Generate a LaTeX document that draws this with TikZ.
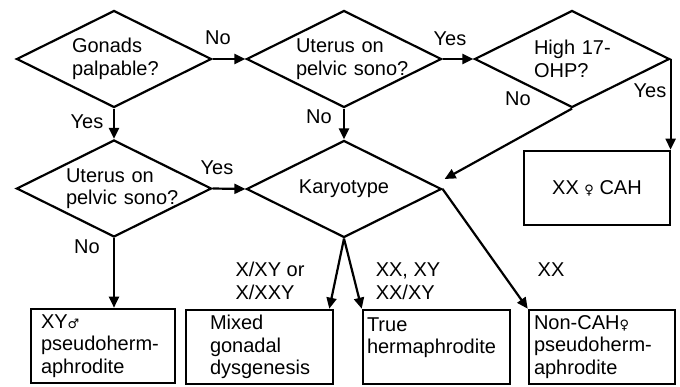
\documentclass[tikz,border=0pt]{standalone}
\usepackage{fontspec}
\setmainfont{Liberation Sans}
\newfontfamily\symfont{DejaVu Sans}
\usetikzlibrary{arrows.meta,positioning,calc,shapes.geometric}

\newcommand{\femsym}{{\symfont\fontsize{13}{13}\selectfont ♀}}
\newcommand{\malsym}{{\symfont\fontsize{13}{13}\selectfont ♂}}

\begin{document}
\begin{tikzpicture}[
    x=1pt, y=-1pt,
    font=\fontsize{20}{22.5}\selectfont,
    decision/.style={diamond, draw=black, line width=2.2pt, shape aspect=2,
                minimum width=195pt, minimum height=97pt, inner sep=0pt,
                align=left},
    outcome/.style={rectangle, draw=black, line width=2.6pt, align=left,
                minimum height=74pt, inner ysep=4pt},
    arr/.style={-{Triangle[length=11pt, width=10pt]}, line width=2.2pt},
]
\useasboundingbox (0,0) rectangle (680,386);

% --- Decisions ---
\node[decision, text width=84pt] (gonads) at (114,59) {Gonads\\palpable?};
\node[decision, text width=96pt] (uterusA) at (344,59) {Uterus on\\\mbox{pelvic sono?}};
\node[decision, text width=76pt] (ohp) at (572,59) {\mbox{High 17-}\\OHP?};
\node[decision, text width=96pt] (uterusB) at (114,188.5) {Uterus on\\\mbox{pelvic sono?}};
\node[decision] (karyo) at (344,189) {Karyotype};

% --- Outcomes ---
\node[outcome, minimum width=146pt, align=center] (cah) at (597,188) {XX \femsym{} CAH};
\node[outcome, minimum width=144pt, inner xsep=10pt, text width=124pt]
  (xyph) at (103,346) {XY\malsym\\pseudoherm-\\aphrodite};
\node[outcome, minimum width=147pt, inner xsep=24pt, text width=99pt]
  (mixed) at (259.5,347) {Mixed\\gonadal\\dysgenesis};
\node[outcome, minimum width=147pt, inner xsep=4pt, text width=139pt]
  (truehm) at (436.5,347) {True\\hermaphrodite\\\mbox{}};
\node[outcome, minimum width=146pt, inner xsep=5pt, text width=136pt]
  (noncah) at (602,347) {Non-CAH\femsym\\pseudoherm-\\aphrodite};

% --- Connectors ---
\coordinate (karyin) at ($(karyo.east)+(2,-10)$);
\coordinate (mixedin) at ($(mixed.north east)+(-5,0)$);

\draw[arr] (gonads.east) -- (uterusA.west);
\draw[arr] (gonads.south) -- (uterusB.north);
\draw[arr] (uterusA.east) -- (ohp.west);
\draw[arr] (uterusA.south) -- (karyo.north);
\draw[arr] (ohp.east) -- (ohp.east |- cah.north);
\draw[arr] (ohp.south) -- (karyin);
\draw[arr] (uterusB.east) -- (karyo.west);
\draw[arr] (uterusB.south) -- (uterusB.south |- xyph.north);
\draw[arr] (karyo.south) -- (mixedin);
\draw[arr] (karyo.south) -- (truehm.north west);
\draw[arr] (karyo.east) -- (noncah.north west);

% --- Branch labels ---
\node (noA) at (218,38) {No};
\node (yesA) at (87,122) {Yes};
\node (yesB) at (450,39) {Yes};
\node (noB) at (319,117) {No};
\node (noC) at (518,99) {No};
\node (yesC) at (650,91) {Yes};
\node (yesD) at (217,168) {Yes};
\node (noD) at (87,247) {No};
\node[align=left] (kA) at (270,281) {X/XY or\\X/XXY};
\node[align=left] (kB) at (408,281) {XX, XY\\XX/XY};
\node (kC) at (551,270) {XX};

\end{tikzpicture}
\end{document}
